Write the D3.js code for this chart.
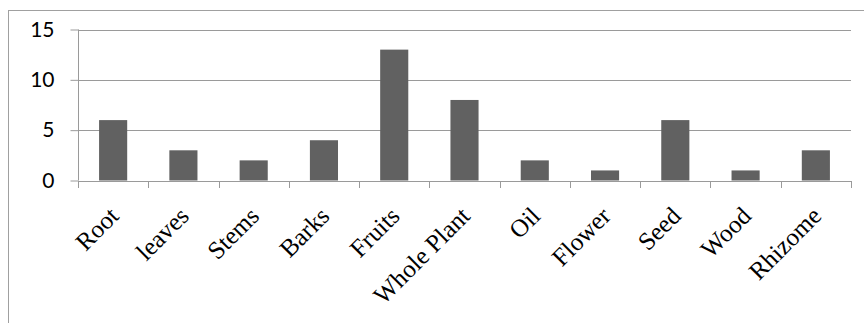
<!DOCTYPE html>
<html>
<head>
<meta charset="utf-8">
<script src="https://cdn.jsdelivr.net/npm/d3@7"></script>
<style>
  html, body { margin: 0; padding: 0; background: #fff; }
  svg { display: block; }
</style>
</head>
<body>
<svg id="chart" width="864" height="323"></svg>
<script>
// Plant parts used and number of records for each
const categories = ["Root", "leaves", "Stems", "Barks", "Fruits", "Whole Plant", "Oil", "Flower", "Seed", "Wood", "Rhizome"];
const counts = [6, 3, 2, 4, 13, 8, 2, 1, 6, 1, 3];
const yTicks = [0, 5, 10, 15];

const svg = d3.select("#chart");
const W = 864, H = 323;
const plot = { left: 78, right: 851, top: 29.5, bottom: 180.5 };

// chart frame
svg.append("rect")
  .attr("x", 8.5).attr("y", 10.5)
  .attr("width", W + 20).attr("height", H + 20)
  .attr("fill", "none").attr("stroke", "#a0a0a0").attr("stroke-width", 1);

const x = d3.scaleBand().domain(categories).range([plot.left, plot.right]).paddingInner(0.6).paddingOuter(0.3);
const xTickScale = d3.scaleLinear().domain([0, categories.length]).range([plot.left, plot.right]);
const y = d3.scaleLinear().domain([0, 15]).range([plot.bottom, plot.top]);

// horizontal gridlines
svg.append("g")
  .selectAll("line")
  .data(yTicks.filter(d => d > 0))
  .join("line")
  .attr("x1", plot.left).attr("x2", plot.right)
  .attr("y1", d => Math.round(y(d)) + 0.5).attr("y2", d => Math.round(y(d)) + 0.5)
  .attr("stroke", "#9a9a9a").attr("stroke-width", 1);

// bars
svg.append("g")
  .selectAll("rect")
  .data(categories.map((c, i) => ({ c, v: counts[i] })))
  .join("rect")
  .attr("x", d => x(d.c))
  .attr("width", x.bandwidth())
  .attr("y", d => y(d.v))
  .attr("height", d => y(0) - y(d.v))
  .attr("fill", "#616161");

// y axis
const yAxis = d3.axisLeft(y).tickValues(yTicks).tickSize(8).tickPadding(16);
const gy = svg.append("g").attr("transform", `translate(${plot.left + 0.5},0)`).call(yAxis);
gy.select(".domain").attr("stroke", "#9a9a9a").attr("d", `M0,${y(15)}V${y(0)}`);
gy.selectAll(".tick line").attr("stroke", "#9a9a9a");
gy.selectAll(".tick text")
  .attr("font-family", "Lato, 'Open Sans', sans-serif")
  .attr("font-size", 21)
  .attr("fill", "#000");

// x axis line and category boundary ticks
const gx = svg.append("g");
gx.append("line")
  .attr("x1", plot.left).attr("x2", plot.right + 0.5)
  .attr("y1", Math.round(y(0)) + 0.5).attr("y2", Math.round(y(0)) + 0.5)
  .attr("stroke", "#9a9a9a");
gx.selectAll("line.tk")
  .data(d3.range(categories.length + 1))
  .join("line")
  .attr("class", "tk")
  .attr("x1", d => Math.round(xTickScale(d)) + 0.5).attr("x2", d => Math.round(xTickScale(d)) + 0.5)
  .attr("y1", Math.round(y(0))).attr("y2", Math.round(y(0)) + 7)
  .attr("stroke", "#9a9a9a");

// rotated category labels
gx.selectAll("text")
  .data(categories)
  .join("text")
  .attr("transform", d => `translate(${x(d) + x.bandwidth() / 2 + 7},${y(0) + 37}) rotate(-45)`)
  .attr("text-anchor", "end")
  .attr("font-family", "'Liberation Serif', 'Times New Roman', serif")
  .attr("font-size", 25)
  .attr("fill", "#000")
  .text(d => d);
</script>
</body>
</html>
